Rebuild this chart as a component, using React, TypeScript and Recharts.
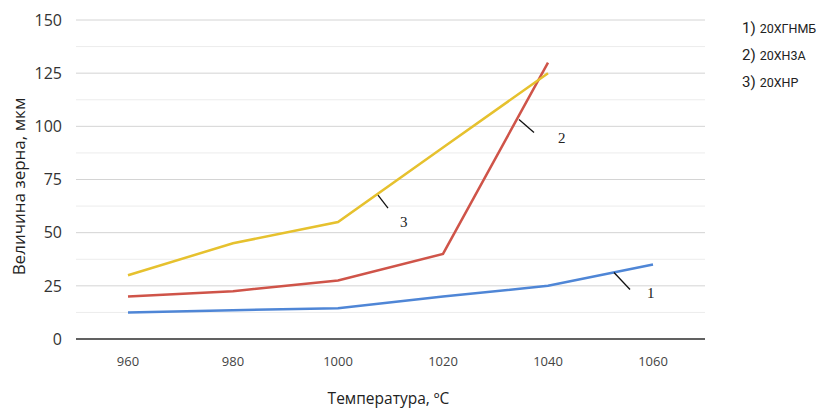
import { LineChart, Line, XAxis, YAxis, CartesianGrid, ReferenceLine, LabelList } from 'recharts';

const temps = [960, 980, 1000, 1020, 1040, 1060];
const steel1 = [12.5, 13.5, 14.5, 20, 25, 35];
const steel2 = [20, 22.5, 27.5, 40, 130, null];
const steel3 = [30, 45, 55, 90, 125, null];
const seriesNames = ['20ХГНМБ', '20ХН3А', '20ХНР'];
const yTicks = [0, 25, 50, 75, 100, 125, 150];
const minorTicks = [12.5, 37.5, 62.5, 87.5, 112.5, 137.5];

const COLORS = ['#4f86d6', '#cf5449', '#e6c12e'];

const data = temps.map((t, i) => ({
  temp: t,
  s1: steel1[i],
  s2: steel2[i],
  s3: steel3[i],
}));

// leader line + number next to a curve, placed relative to one of its points
const leader = (at: number, text: string, d: number[]) => (props: any) => {
  const { x, y, index } = props;
  if (index !== at || x == null || y == null) return null;
  return (
    <g>
      <line x1={x + d[0]} y1={y + d[1]} x2={x + d[2]} y2={y + d[3]} stroke="#111" strokeWidth={1.3} />
      <text x={x + d[4]} y={y + d[5]} fill="#222" fontSize={15} fontFamily="Liberation Serif" dominantBaseline="central">
        {text}
      </text>
    </g>
  );
};

const yLabel = (props: any) => {
  const vb = props.viewBox || {};
  const cx = vb.x + 18;
  const cy = vb.y + vb.height / 2 + 7;
  return (
    <text
      x={cx}
      y={cy}
      transform={`rotate(-90 ${cx} ${cy})`}
      textAnchor="middle"
      dominantBaseline="central"
      fill="#222"
      fontSize={17}
      fontFamily="Open Sans"
    >
      Величина зерна, мкм
    </text>
  );
};

const App = () => {
  return (
    <div style={{ position: 'absolute', left: 0, top: 0, width: 829, height: 409, background: '#fff' }}>
      <LineChart width={829} height={409} data={data} margin={{ top: 20, right: 124, left: 0, bottom: 0 }}>
        <CartesianGrid vertical={false} stroke="#d4d4d4" />
        {minorTicks.map((v) => (
          <ReferenceLine key={v} y={v} stroke="#ececec" />
        ))}
        <XAxis
          dataKey="temp"
          height={70}
          padding={{ left: 52, right: 52 }}
          axisLine={{ stroke: '#333', strokeWidth: 1.3 }}
          tickLine={false}
          tickMargin={12}
          tick={{ fill: '#444', fontSize: 13, fontFamily: 'Open Sans' }}
          label={{ value: 'Температура, ºC', position: 'insideBottom', offset: 5, dx: -2, fill: '#222', fontSize: 15.5, fontFamily: 'Open Sans' }}
        />
        <YAxis
          width={76}
          domain={[0, 150]}
          ticks={yTicks}
          axisLine={false}
          tickLine={false}
          tickMargin={8}
          tick={{ fill: '#333', fontSize: 16, fontFamily: 'Open Sans' }}
          label={yLabel}
        />
        <Line type="linear" dataKey="s1" stroke={COLORS[0]} strokeWidth={2.5} dot={false} isAnimationActive={false}>
          <LabelList dataKey="s1" content={leader(5, '1', [-39, 8, -23, 25, -6, 28])} />
        </Line>
        <Line type="linear" dataKey="s2" stroke={COLORS[1]} strokeWidth={2.5} dot={false} isAnimationActive={false}>
          <LabelList dataKey="s2" content={leader(4, '2', [-29, 57, -14, 70, 10, 75])} />
        </Line>
        <Line type="linear" dataKey="s3" stroke={COLORS[2]} strokeWidth={2.5} dot={false} isAnimationActive={false}>
          <LabelList dataKey="s3" content={leader(2, '3', [40, -27, 50, -14, 62, 0])} />
        </Line>
      </LineChart>
      <div style={{ position: 'absolute', top: 14, left: 742, fontFamily: 'Roboto', color: '#222' }}>
        {seriesNames.map((n, i) => (
          <div key={n} style={{ height: 27, lineHeight: '27px', whiteSpace: 'nowrap' }}>
            <span style={{ fontSize: 15 }}>{i + 1})</span>{' '}
            <span style={{ fontSize: 12.5 }}>{n}</span>
          </div>
        ))}
      </div>
    </div>
  );
};

export default App;
